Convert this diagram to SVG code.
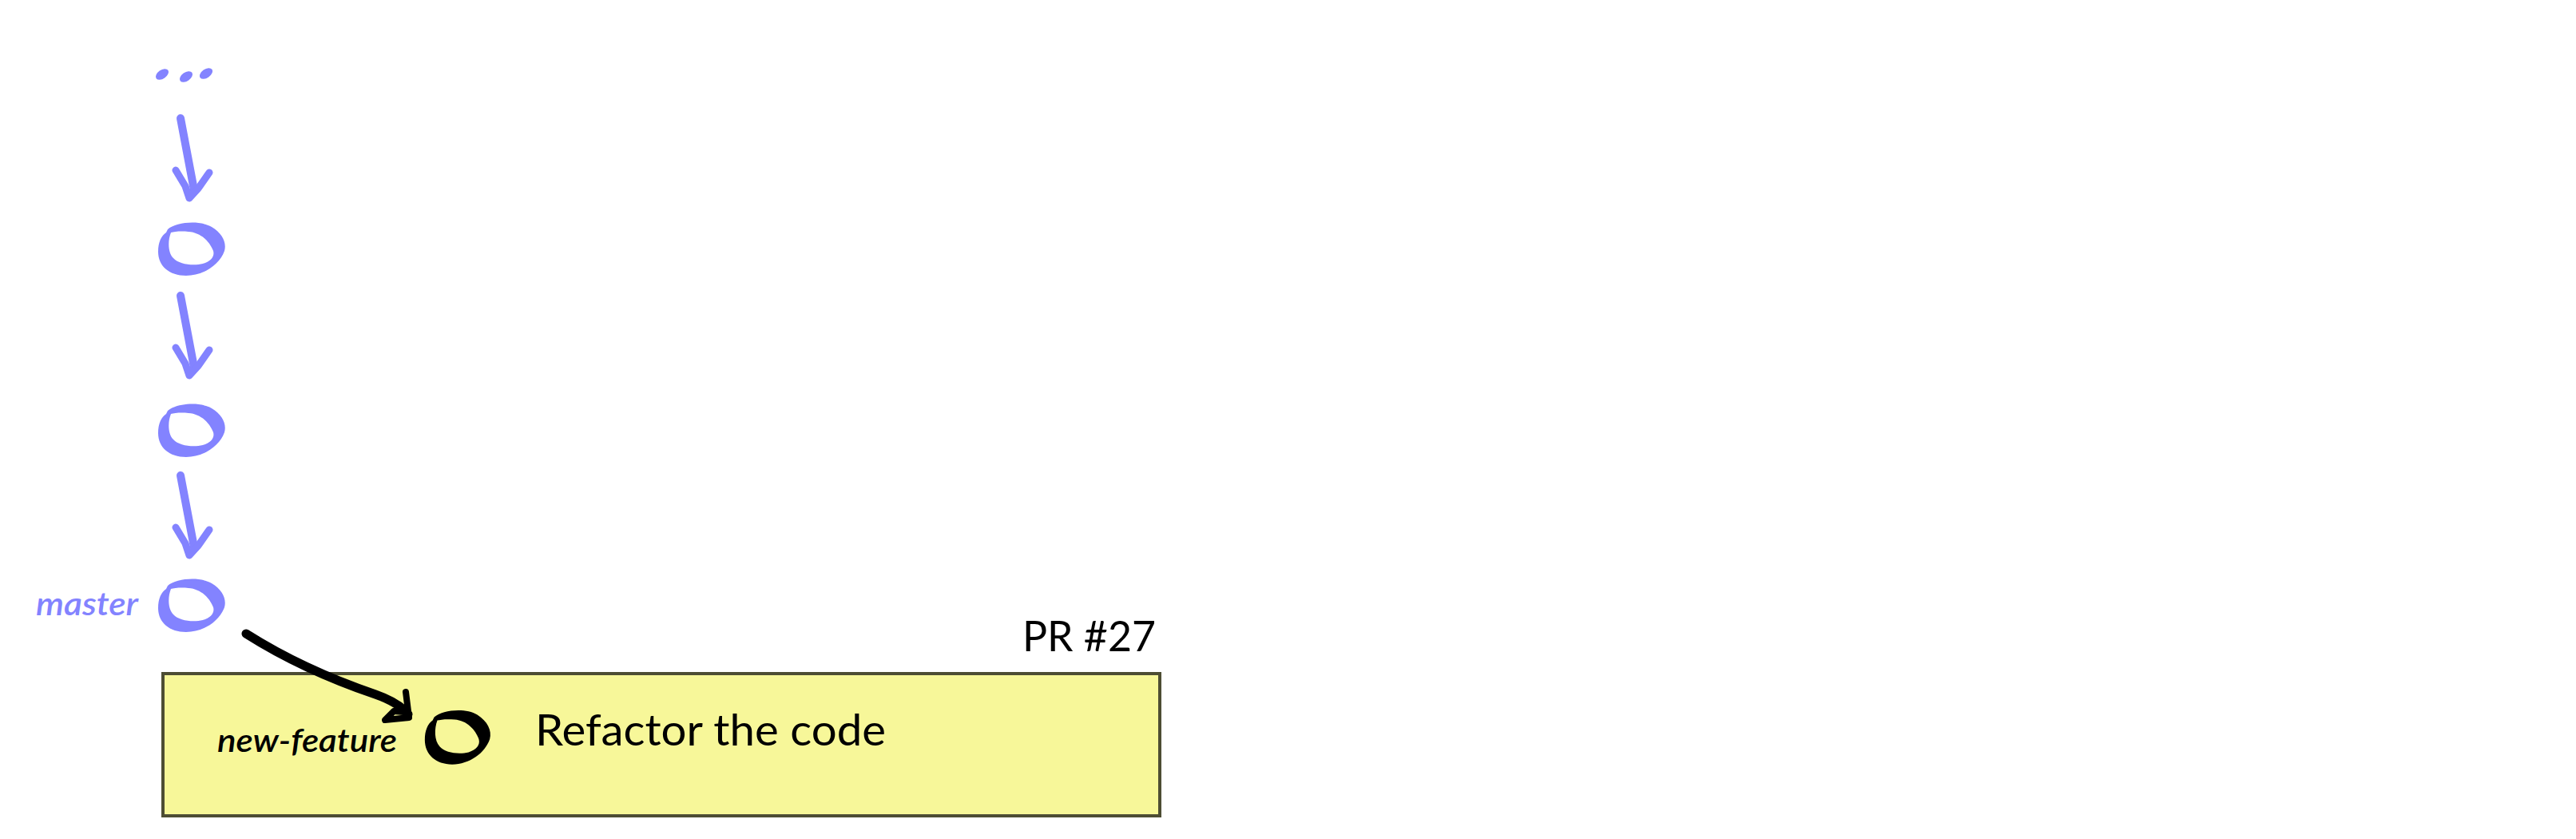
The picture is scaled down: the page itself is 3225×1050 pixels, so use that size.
<svg xmlns="http://www.w3.org/2000/svg" width="3225" height="1050" viewBox="0 0 3225 1050">
<style>
.blue{fill:#8383ff}
.bstroke{fill:none;stroke:#8383ff;stroke-linecap:round;stroke-linejoin:round}
.kstroke{fill:none;stroke:#000;stroke-linecap:round;stroke-linejoin:round}
.t{font-family:Lato,"Noto Sans","Liberation Sans",sans-serif}
.it{font-style:italic;font-weight:600}
</style>
<defs>
<path id="ring" fill-rule="evenodd" d="M -30,-24 C -20,-33 10,-36 25,-27 C 38,-19 44,-8 41,3 C 35,20 15,34 -7,34 C -28,34 -42,22 -42,4 C -42,-8 -38,-16 -32,-20 Z M -26,-20 C -30,-10 -30,5 -23,12 C -16,20 2,22 14,19 C 24,16 29,10 27,3 C 23,-8 12,-20 -4,-21 C -14,-22 -22,-21 -26,-20 Z"/>
<g id="barrow">
<path class="bstroke" stroke-width="10" d="M 226,148 L 243,238"/>
<path class="bstroke" stroke-width="9" d="M 220,213 L 232,233 L 237,248 L 248,236 L 262,216"/>
</g>
</defs>
<rect width="3225" height="1050" fill="#fff"/>
<g id="pr-box">
<rect x="204" y="843" width="1248" height="178" fill="#f7f799" stroke="#4d4d33" stroke-width="4"/>
<text class="t" x="1447" y="815" font-size="52" text-anchor="end" textLength="167" lengthAdjust="spacingAndGlyphs">PR #27</text>
</g>
<g id="ellipsis">
<ellipse class="blue" cx="203" cy="93" rx="9" ry="5.5" transform="rotate(-35 203 93)"/>
<ellipse class="blue" cx="233" cy="96" rx="9" ry="5.5" transform="rotate(-35 233 96)"/>
<ellipse class="blue" cx="258" cy="92" rx="9" ry="5.5" transform="rotate(-35 258 92)"/>
</g>
<g id="commit-1"><use href="#ring" class="blue" transform="translate(240,311)"/></g>
<g id="commit-2"><use href="#ring" class="blue" transform="translate(240,538)"/></g>
<g id="commit-3"><use href="#ring" class="blue" transform="translate(240,757)"/>
<text class="t it" x="45" y="770" font-size="40" fill="#8383ff" textLength="128" lengthAdjust="spacingAndGlyphs">master</text></g>
<g id="commit-new">
<use href="#ring" fill="#000" transform="translate(573,922) scale(0.98,1.02)"/>
<text class="t it" x="272" y="941" font-size="41" fill="#000" textLength="225" lengthAdjust="spacingAndGlyphs">new-feature</text>
<text class="t" x="670" y="933" font-size="54" fill="#000" textLength="439" lengthAdjust="spacingAndGlyphs">Refactor the code</text>
</g>
<g id="connectors">
<use href="#barrow"/>
<use href="#barrow" transform="translate(0,222)"/>
<use href="#barrow" transform="translate(0,447)"/>
<path class="kstroke" stroke-width="11" d="M 308,793 C 360,826 420,852 470,869 C 490,876 503,884 511,894"/>
<path class="kstroke" stroke-width="8" d="M 508,866 L 512,898 L 482,901 L 493,890 L 505,891"/>
</g>
</svg>
